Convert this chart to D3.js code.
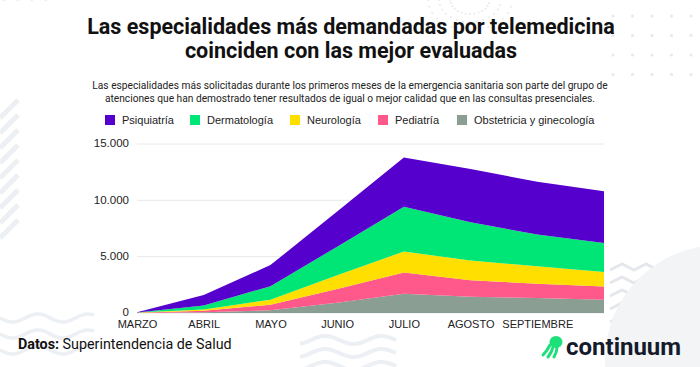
<!DOCTYPE html>
<html>
<head>
<meta charset="utf-8">
<script src="https://cdn.jsdelivr.net/npm/d3@7"></script>
<style>
  body { margin: 0; background: #fff; }
  svg { display: block; }
</style>
</head>
<body>
<div id="chart"></div>
<script>
const months = ["MARZO", "ABRIL", "MAYO", "JUNIO", "JULIO", "AGOSTO", "SEPTIEMBRE", ""];
// one array per specialty, monthly consultations
const obstetricia = [10, 60, 250, 910, 1700, 1450, 1330, 1180];
const pediatria = [15, 150, 490, 1220, 1900, 1450, 1270, 1180];
const neurologia = [10, 110, 440, 1215, 1860, 1750, 1540, 1280];
const dermatologia = [10, 350, 1200, 2535, 3960, 3400, 2820, 2580];
const psiquiatria = [20, 920, 1870, 3130, 4380, 4740, 4680, 4580];
const yTicks = [0, 5000, 10000, 15000];

const series = [
    { key: "Obstetricia y ginecología", values: obstetricia, color: "#8b9e94" },
    { key: "Pediatría", values: pediatria, color: "#ff588a" },
    { key: "Neurología", values: neurologia, color: "#ffdf00" },
    { key: "Dermatología", values: dermatologia, color: "#00e676" },
    { key: "Psiquiatría", values: psiquiatria, color: "#5500cc" },
];
const legendOrder = ["Psiquiatría", "Dermatología", "Neurología", "Pediatría", "Obstetricia y ginecología"];

const width = 700;
const height = 367;
const margin = { top: 144, right: 96, bottom: 54, left: 137 };
const deco = "#eceff3";

const svg = d3.select("#chart").append("svg")
    .attr("width", width)
    .attr("height", height);

// background decorations
const bg = svg.append("g").attr("fill", "none").attr("stroke", deco);
for (let i = 0; i < 9; i++) {
    bg.append("path")
        .attr("stroke-width", 5)
        .attr("d", `M0,${118 + i * 15} L18,${100 + i * 15}`);
}
for (let i = 0; i < 4; i++) {
    bg.append("path")
        .attr("stroke-width", 5)
        .attr("d", `M${i * 14 + 2},0 L${i * 14 + 22},-20`);
}
[318, 334, 350].forEach(yy => {
    bg.append("path")
        .attr("stroke-width", 3.5)
        .attr("d", d3.range(0, 96, 2).map((xx, i) =>
            `${i ? "L" : "M"}${xx},${yy + 4 * Math.sin(xx / 8)}`).join(""));
});
svg.append("circle").attr("cx", 720).attr("cy", 360).attr("r", 115).attr("fill", "#f3f4f6");
for (let r = 0; r < 8; r++) {
    bg.append("path")
        .attr("stroke", "#e4e7eb")
        .attr("stroke-width", 3)
        .attr("d", d3.range(610, 700, 12).map((xx, i) =>
            `${i ? "L" : "M"}${xx},${270 + r * 13 + (i % 2 ? -6 : 0)}`).join(""));
}
for (let r = 0; r < 3; r++) {
    bg.append("path")
        .attr("stroke-width", 4)
        .attr("d", d3.range(300, 398, 2).map((xx, i) =>
            `${i ? "L" : "M"}${xx},${340 + r * 13 + 4 * Math.sin(xx / 9)}`).join(""));
}
const dots = svg.append("g").attr("fill", "#e6e9ee");
for (let c = 0; c < 6; c++) {
    for (let r = 0; r < 4; r++) {
        dots.append("circle").attr("cx", 613 + c * 19.5).attr("cy", 16 + r * 19.5).attr("r", 1.6);
    }
}
for (let a = 0; a < 28; a++) {
    const ang = a / 28 * 2 * Math.PI;
    [14, 22, 30].forEach(rr => {
        const py = 0 + rr * Math.sin(ang);
        if (py > 0) dots.append("circle")
            .attr("cx", 470 + rr * 1.4 * Math.cos(ang)).attr("cy", py).attr("r", 1);
    });
}

// title and subtitle
const titleLines = ["Las especialidades más demandadas por telemedicina", "coinciden con las mejor evaluadas"];
titleLines.forEach((t, i) => {
    svg.append("text")
        .attr("x", 351).attr("y", 34 + i * 24)
        .attr("text-anchor", "middle")
        .attr("font-family", "Roboto, sans-serif")
        .attr("font-weight", 700)
        .attr("font-size", 21.5)
        .attr("fill", "#111")
        .text(t);
});
const subLines = [
    "Las especialidades más solicitadas durante los primeros meses de la emergencia sanitaria son parte del grupo de",
    "atenciones que han demostrado tener resultados de igual o mejor calidad que en las consultas presenciales.",
];
subLines.forEach((t, i) => {
    svg.append("text")
        .attr("x", 350).attr("y", 89 + i * 13)
        .attr("text-anchor", "middle")
        .attr("font-family", "Roboto, sans-serif")
        .attr("font-size", 10.2)
        .attr("fill", "#222")
        .text(t);
});

// legend
const legendX = [105, 190, 290, 378, 457];
const legend = svg.append("g").attr("font-family", "Liberation Sans, Arial, sans-serif").attr("font-size", 11);
legendOrder.forEach((name, i) => {
    const s = series.find(d => d.key === name);
    legend.append("rect")
        .attr("x", legendX[i]).attr("y", 115)
        .attr("width", 10).attr("height", 10)
        .attr("fill", s.color);
    legend.append("text")
        .attr("x", legendX[i] + 17).attr("y", 124)
        .attr("fill", "#222")
        .text(name);
});

// chart
const rows = months.map((m, i) => {
    const r = { month: m };
    series.forEach(s => { r[s.key] = s.values[i]; });
    return r;
});
const stack = d3.stack().keys(series.map(s => s.key));
const layers = stack(rows);

const x = d3.scalePoint()
    .domain(d3.range(months.length))
    .range([margin.left, width - margin.right]);
const y = d3.scaleLinear()
    .domain([0, 15000])
    .range([height - margin.bottom, margin.top]);

const locale = d3.formatLocale({ decimal: ",", thousands: ".", grouping: [3], currency: ["$", ""] });
const fmt = locale.format(",d");

const grid = svg.append("g");
yTicks.forEach(t => {
    grid.append("line")
        .attr("x1", margin.left).attr("x2", width - margin.right)
        .attr("y1", y(t)).attr("y2", y(t))
        .attr("stroke", "#e8e8e8");
});

const area = d3.area()
    .x((d, i) => x(i))
    .y0(d => y(d[0]))
    .y1(d => y(d[1]));

svg.append("g").selectAll("path")
    .data(layers)
    .join("path")
    .attr("fill", (d, i) => series[i].color)
    .attr("d", area);

svg.append("g")
    .attr("transform", `translate(${margin.left - 5},-1)`)
    .call(d3.axisLeft(y).tickValues(yTicks).tickFormat(fmt).tickSize(0))
    .call(g => g.select(".domain").remove())
    .selectAll("text")
    .attr("font-family", "Liberation Sans, Arial, sans-serif")
    .attr("font-size", 11.5)
    .attr("fill", "#222");

svg.append("g")
    .attr("transform", `translate(0,${height - margin.bottom + 2})`)
    .call(d3.axisBottom(x).tickFormat(i => months[i]).tickSize(0))
    .call(g => g.select(".domain").remove())
    .selectAll("text")
    .attr("dy", "0.9em")
    .attr("font-family", "Liberation Sans, Arial, sans-serif")
    .attr("font-size", 11)
    .attr("fill", "#222");

// source and logo
const src = svg.append("text")
    .attr("x", 18).attr("y", 349)
    .attr("font-family", "Roboto, sans-serif")
    .attr("font-size", 14.3)
    .attr("fill", "#111");
src.append("tspan").attr("font-weight", 700).text("Datos:");
src.append("tspan").text(" Superintendencia de Salud");

const logo = svg.append("g").attr("transform", "translate(553,346)");
logo.append("ellipse").attr("cx", 3).attr("cy", -4).attr("rx", 6.5).attr("ry", 6).attr("fill", "#1ee07a");
logo.append("path")
    .attr("d", "M-3,-1 Q-6,5 -10,9 M0,1 Q-1,6 -5,11 M4,1 Q4,6 1,11")
    .attr("stroke", "#1ee07a").attr("stroke-width", 3).attr("fill", "none").attr("stroke-linecap", "round");
svg.append("text")
    .attr("x", 566).attr("y", 355)
    .attr("font-family", "Roboto, sans-serif")
    .attr("font-weight", 700)
    .attr("font-size", 24)
    .attr("fill", "#141b2d")
    .text("continuum");
</script>
</body>
</html>
